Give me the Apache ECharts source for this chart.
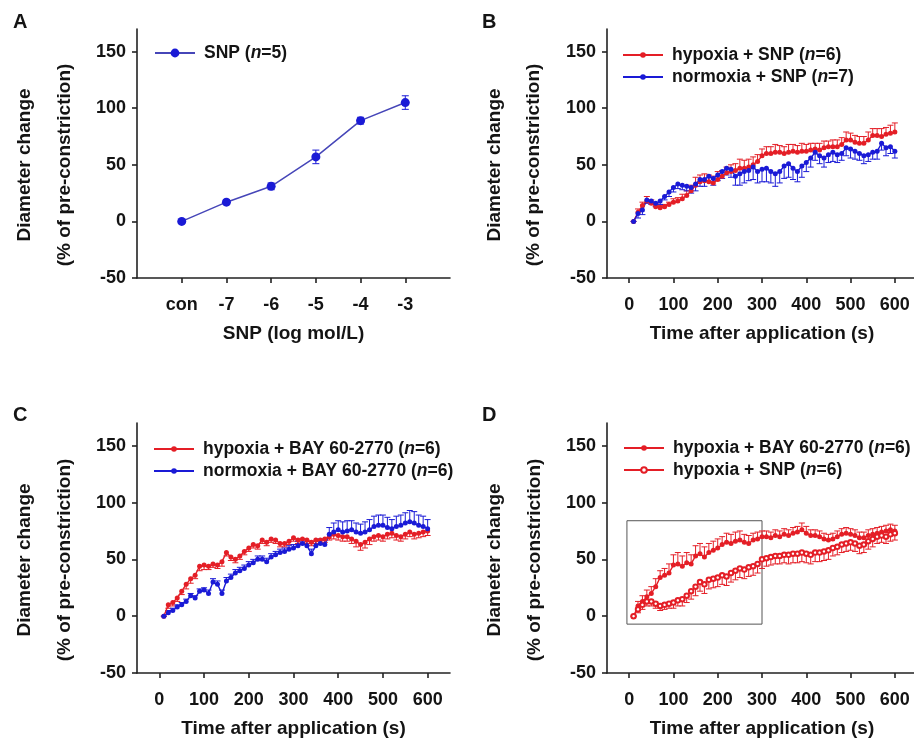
<!DOCTYPE html>
<html>
<head>
<meta charset="utf-8">
<script src="https://cdn.jsdelivr.net/npm/echarts@6/dist/echarts.min.js"></script>
<style>
  html, body { margin: 0; padding: 0; background: #fff; }
  #chart { width: 914px; height: 740px; }
</style>
</head>
<body>
<div id="chart"></div>
<script>
// ---- Concentration–response (panel A) ----
const doseLabels = ['con', '-7', '-6', '-5', '-4', '-3'];
const doseSnp = [0, 17, 31, 57, 89, 105];
const doseSnpErr = [0, 2, 3, 6, 3, 6];

// ---- Time courses (panels B–D), sampled every 10 s ----
const timeSec = [10, 20, 30, 40, 50, 60, 70, 80, 90, 100,
  110, 120, 130, 140, 150, 160, 170, 180, 190, 200,
  210, 220, 230, 240, 250, 260, 270, 280, 290, 300,
  310, 320, 330, 340, 350, 360, 370, 380, 390, 400,
  410, 420, 430, 440, 450, 460, 470, 480, 490, 500,
  510, 520, 530, 540, 550, 560, 570, 580, 590, 600];
const timeTicks = [0, 100, 200, 300, 400, 500, 600];
const yTicks = [-50, 0, 50, 100, 150];

// B: SNP under hypoxia / normoxia
const hypoxiaSnpB = [0, 8, 14, 18, 16, 13, 12, 13, 15, 17,
  18, 20, 23, 27, 32, 35, 36, 35, 34, 37,
  40, 43, 44, 45, 47, 47, 48, 50, 53, 58,
  60, 60, 61, 61, 60, 61, 62, 61, 62, 62,
  63, 64, 63, 65, 66, 66, 66, 68, 72, 72,
  70, 69, 69, 72, 76, 76, 75, 77, 78, 79];
const hypoxiaSnpBErr = [0, 3, 3, 4, 3, 3, 2, 2, 2, 3,
  3, 4, 4, 5, 7, 6, 6, 6, 6, 7,
  5, 5, 6, 6, 8, 7, 7, 7, 6, 6,
  6, 6, 7, 6, 6, 7, 6, 6, 7, 6,
  6, 5, 6, 6, 5, 6, 6, 6, 7, 6,
  6, 6, 6, 7, 6, 6, 7, 6, 7, 8];
const normoxiaSnpB = [0, 7, 10, 19, 18, 16, 18, 22, 26, 30,
  33, 32, 31, 30, 33, 37, 37, 40, 38, 41,
  44, 47, 46, 40, 42, 44, 45, 48, 44, 46,
  47, 44, 42, 44, 49, 51, 47, 44, 49, 52,
  56, 61, 58, 56, 59, 61, 59, 60, 65, 64,
  62, 60, 58, 59, 61, 62, 69, 65, 66, 62];
const normoxiaSnpBErr = [0, 4, 4, 3, 3, 3, 3, 3, 4, 4,
  4, 4, 4, 5, 6, 6, 6, 5, 6, 5,
  6, 6, 7, 8, 10, 10, 9, 11, 10, 11,
  12, 10, 11, 10, 11, 12, 10, 9, 10, 8,
  8, 7, 7, 8, 7, 8, 7, 6, 7, 8,
  7, 6, 7, 6, 6, 7, 6, 7, 6, 6];

// C: BAY 60-2770 under hypoxia / normoxia
const hypoxiaBayC = [0, 10, 12, 16, 22, 28, 33, 36, 44, 45,
  44, 46, 45, 48, 56, 52, 50, 53, 57, 60,
  63, 62, 67, 65, 68, 67, 64, 64, 66, 69,
  67, 68, 67, 65, 67, 67, 68, 70, 72, 71,
  70, 70, 68, 66, 63, 65, 68, 70, 71, 70,
  72, 73, 71, 70, 72, 74, 72, 73, 74, 75];
const hypoxiaBayCErr = [0, 3, 3, 3, 3, 4, 4, 3, 4, 4,
  3, 3, 3, 4, 3, 3, 3, 3, 3, 3,
  3, 3, 3, 3, 3, 3, 3, 3, 3, 3,
  3, 3, 3, 3, 3, 3, 3, 3, 4, 4,
  4, 4, 4, 5, 5, 5, 5, 4, 4, 4,
  4, 4, 4, 4, 4, 4, 4, 4, 4, 4];
const normoxiaBayC = [0, 3, 5, 8, 10, 13, 18, 16, 22, 23,
  20, 30, 28, 20, 31, 34, 38, 40, 42, 45,
  47, 50, 50, 48, 52, 54, 56, 57, 59, 60,
  62, 64, 62, 55, 62, 64, 63, 72, 74, 76,
  74, 75, 76, 74, 73, 74, 76, 79, 80, 80,
  78, 77, 79, 80, 82, 83, 82, 80, 79, 77];
const normoxiaBayCErr = [0, 2, 2, 2, 2, 2, 2, 2, 2, 2,
  3, 3, 3, 3, 3, 3, 3, 3, 3, 3,
  3, 3, 3, 3, 3, 3, 3, 3, 3, 3,
  4, 4, 4, 4, 4, 4, 4, 6, 8, 8,
  9, 9, 8, 8, 8, 9, 9, 9, 9, 9,
  9, 8, 9, 9, 9, 10, 10, 9, 9, 8];

// D: hypoxia, BAY 60-2770 vs SNP
const hypoxiaBayD = [0, 9, 13, 17, 20, 26, 34, 36, 38, 45,
  46, 44, 47, 46, 53, 55, 52, 56, 58, 60,
  63, 65, 64, 66, 67, 65, 64, 67, 68, 70,
  70, 69, 71, 70, 72, 71, 73, 74, 76, 73,
  71, 71, 70, 68, 67, 68, 70, 72, 73, 72,
  71, 69, 69, 71, 72, 73, 74, 75, 76, 75];
const hypoxiaBayDErr = [0, 4, 5, 6, 6, 7, 6, 6, 8, 9,
  10, 9, 9, 8, 9, 9, 9, 8, 8, 8,
  7, 8, 8, 8, 8, 7, 7, 6, 6, 5,
  5, 5, 5, 5, 5, 5, 5, 5, 6, 6,
  5, 5, 5, 5, 5, 5, 5, 5, 5, 5,
  5, 5, 5, 5, 5, 5, 5, 5, 5, 5];
const hypoxiaSnpD = [0, 6, 10, 13, 13, 11, 9, 10, 11, 12,
  14, 15, 18, 22, 26, 30, 28, 32, 33, 34,
  36, 35, 38, 40, 42, 41, 43, 44, 46, 50,
  51, 52, 53, 53, 54, 54, 55, 55, 56, 55,
  54, 56, 56, 57, 58, 60, 61, 63, 64, 65,
  64, 62, 63, 66, 68, 70, 71, 70, 72, 73];
const hypoxiaSnpDErr = [0, 3, 4, 4, 4, 4, 4, 4, 4, 5,
  5, 6, 6, 7, 8, 8, 8, 8, 8, 8,
  8, 8, 8, 8, 8, 8, 8, 8, 8, 8,
  7, 7, 7, 7, 7, 8, 8, 8, 8, 8,
  8, 8, 8, 8, 8, 7, 7, 7, 7, 7,
  7, 7, 7, 7, 7, 6, 6, 6, 6, 6];

// Outline of the early-phase region highlighted in panel D (data units)
const earlyBoxT = [-5, 300];
const earlyBoxY = [-7, 84];

// ---- Styling ----
const FONT = '"Liberation Sans", Arial, Helvetica, sans-serif';
const RED = '#e41e26';
const BLUE = '#1a1ad6';
const INK = '#141414';
const TICK_FONT = 18;
const TITLE_FONT = 19;
const LEGEND_FONT = 17.5;

const legendText = {
  snpA: 'SNP ({i|n}=5)',
  hypSnpB: 'hypoxia + SNP ({i|n}=6)',
  norSnpB: 'normoxia + SNP ({i|n}=7)',
  hypBayC: 'hypoxia + BAY 60-2770 ({i|n}=6)',
  norBayC: 'normoxia + BAY 60-2770 ({i|n}=6)',
  hypBayD: 'hypoxia + BAY 60-2770 ({i|n}=6)',
  hypSnpD: 'hypoxia + SNP ({i|n}=6)'
};

const grids = [
  { left: 137, top: 29, width: 313, height: 249 },
  { left: 607, top: 29, width: 310, height: 249 },
  { left: 137, top: 423, width: 313, height: 250 },
  { left: 607, top: 423, width: 310, height: 250 }
].map(g => Object.assign({ outerBoundsMode: 'none', containLabel: false }, g));

const axisLineStyle = { color: '#222', width: 1.6 };
const tickLabelStyle = { fontSize: TICK_FONT, fontWeight: 'bold', fontFamily: FONT, color: INK };
const axisTitleStyle = { fontSize: TITLE_FONT, fontWeight: 'bold', fontFamily: FONT, color: INK };

function yAxisFor(gi) {
  return {
    gridIndex: gi, type: 'value', min: -50, max: 170,
    axisLine: { show: true, onZero: false, lineStyle: axisLineStyle },
    axisTick: { show: true, length: 5, inside: false, customValues: yTicks, lineStyle: axisLineStyle },
    axisLabel: Object.assign({ customValues: yTicks, margin: 11 }, tickLabelStyle),
    splitLine: { show: false }
  };
}

function timeAxisFor(gi) {
  return {
    gridIndex: gi, type: 'value', min: -50, max: 650, interval: 50,
    axisLine: { show: true, onZero: false, lineStyle: axisLineStyle },
    axisTick: { show: true, length: 5, customValues: timeTicks, lineStyle: axisLineStyle },
    axisLabel: Object.assign({ customValues: timeTicks, margin: 18 }, tickLabelStyle),
    splitLine: { show: false },
    name: 'Time after application (s)', nameLocation: 'middle', nameGap: 46,
    nameTextStyle: axisTitleStyle
  };
}

const doseAxis = {
  gridIndex: 0, type: 'value', min: 0, max: 7, interval: 1,
  axisLine: { show: true, onZero: false, lineStyle: axisLineStyle },
  axisTick: { show: true, length: 5, customValues: [1, 2, 3, 4, 5, 6], lineStyle: axisLineStyle },
  axisLabel: Object.assign({
    customValues: [1, 2, 3, 4, 5, 6], margin: 18,
    formatter: v => doseLabels[Math.round(v) - 1] || ''
  }, tickLabelStyle),
  splitLine: { show: false },
  name: 'SNP (log mol/L)', nameLocation: 'middle', nameGap: 46,
  nameTextStyle: axisTitleStyle
};

// Vertical SEM bars: dir = 1 (up), -1 (down), 0 (both)
function errorBars(gi, xs, ys, errs, dir, color, capHalf) {
  return {
    type: 'custom', xAxisIndex: gi, yAxisIndex: gi, silent: true, z: 1,
    encode: { x: 0, y: 1 },
    data: xs.map((x, i) => [x, ys[i], errs[i]]),
    renderItem(params, api) {
      const x = api.value(0), y = api.value(1), e = api.value(2);
      const ends = dir === 0 ? [y + e, y - e] : [y + dir * e];
      const p0 = api.coord([x, y]);
      const children = [];
      ends.forEach(yy => {
        const p1 = api.coord([x, yy]);
        children.push({ type: 'line', shape: { x1: p0[0], y1: p0[1], x2: p1[0], y2: p1[1] },
          style: { stroke: color, lineWidth: 1 } });
        children.push({ type: 'line', shape: { x1: p1[0] - capHalf, y1: p1[1], x2: p1[0] + capHalf, y2: p1[1] },
          style: { stroke: color, lineWidth: 1 } });
      });
      return { type: 'group', children };
    }
  };
}

function timeLine(gi, name, ys, color, hollow) {
  return {
    type: 'line', name, xAxisIndex: gi, yAxisIndex: gi, z: 3,
    data: timeSec.map((t, i) => [t, ys[i]]),
    symbol: hollow ? 'emptyCircle' : 'circle', symbolSize: hollow ? 4.5 : 5, showAllSymbol: true,
    lineStyle: { color, width: hollow ? 1 : 1.4 },
    itemStyle: { color, borderColor: color, borderWidth: hollow ? 0.8 : 0 },
    emphasis: { disabled: true }, animation: false
  };
}

function legendFor(left, top, names, itemHeight) {
  return {
    left, top, orient: 'vertical', padding: 0, itemGap: 0,
    itemWidth: 40, itemHeight, selectedMode: false,
    data: names,
    formatter: n => legendText[n],
    textStyle: {
      fontSize: LEGEND_FONT, fontWeight: 'bold', fontFamily: FONT, color: INK,
      lineHeight: 22, padding: [0, 0, 0, 4],
      rich: { i: { fontSize: LEGEND_FONT, fontWeight: 'bold', fontStyle: 'italic', fontFamily: FONT, color: INK, lineHeight: 22 } }
    }
  };
}

function rotatedTitle(x, y, text) {
  return {
    type: 'text', x, y, rotation: Math.PI / 2, silent: true,
    style: { text, font: 'bold ' + TITLE_FONT + 'px ' + FONT, fill: INK, textAlign: 'center', textVerticalAlign: 'middle' }
  };
}
function panelLetter(x, y, text) {
  return { type: 'text', x, y, silent: true,
    style: { text, font: 'bold 20px ' + FONT, fill: INK, textAlign: 'left', textVerticalAlign: 'top' } };
}

const hypBayDLine = timeLine(3, 'hypBayD', hypoxiaBayD, RED);
hypBayDLine.markArea = {
  silent: true, label: { show: false },
  itemStyle: { color: 'rgba(0,0,0,0)', borderColor: '#555', borderWidth: 1 },
  data: [[{ coord: [earlyBoxT[0], earlyBoxY[0]] }, { coord: [earlyBoxT[1], earlyBoxY[1]] }]]
};

const option = {
  animation: false,
  backgroundColor: '#fff',
  grid: grids,
  xAxis: [doseAxis, timeAxisFor(1), timeAxisFor(2), timeAxisFor(3)],
  yAxis: [yAxisFor(0), yAxisFor(1), yAxisFor(2), yAxisFor(3)],
  legend: [
    legendFor(154, 42, ['snpA'], 11),
    legendFor(622, 44, ['hypSnpB', 'norSnpB'], 7),
    legendFor(153, 438, ['hypBayC', 'norBayC'], 7),
    legendFor(623, 437, ['hypBayD', 'hypSnpD'], 7)
  ],
  series: [
    // A
    errorBars(0, [1, 2, 3, 4, 5, 6], doseSnp, doseSnpErr, 0, BLUE, 3.5),
    {
      type: 'line', name: 'snpA', xAxisIndex: 0, yAxisIndex: 0, z: 3,
      data: doseSnp.map((v, i) => [i + 1, v]),
      symbol: 'circle', symbolSize: 9,
      lineStyle: { color: '#4646b8', width: 1.5 },
      itemStyle: { color: BLUE }, emphasis: { disabled: true }
    },
    // B
    errorBars(1, timeSec, hypoxiaSnpB, hypoxiaSnpBErr, 1, RED, 3),
    errorBars(1, timeSec, normoxiaSnpB, normoxiaSnpBErr, -1, BLUE, 3),
    timeLine(1, 'hypSnpB', hypoxiaSnpB, RED),
    timeLine(1, 'norSnpB', normoxiaSnpB, BLUE),
    // C
    errorBars(2, timeSec, hypoxiaBayC, hypoxiaBayCErr, -1, RED, 3),
    errorBars(2, timeSec, normoxiaBayC, normoxiaBayCErr, 1, BLUE, 3),
    timeLine(2, 'hypBayC', hypoxiaBayC, RED),
    timeLine(2, 'norBayC', normoxiaBayC, BLUE),
    // D
    errorBars(3, timeSec, hypoxiaBayD, hypoxiaBayDErr, 1, RED, 3),
    errorBars(3, timeSec, hypoxiaSnpD, hypoxiaSnpDErr, -1, RED, 3),
    hypBayDLine,
    timeLine(3, 'hypSnpD', hypoxiaSnpD, RED, true)
  ],
  graphic: [
    panelLetter(13, 12, 'A'), panelLetter(482, 12, 'B'),
    panelLetter(13, 405, 'C'), panelLetter(482, 405, 'D'),
    rotatedTitle(25, 165, 'Diameter change'), rotatedTitle(65, 165, '(% of pre-constriction)'),
    rotatedTitle(495, 165, 'Diameter change'), rotatedTitle(534, 165, '(% of pre-constriction)'),
    rotatedTitle(25, 560, 'Diameter change'), rotatedTitle(65, 560, '(% of pre-constriction)'),
    rotatedTitle(495, 560, 'Diameter change'), rotatedTitle(535, 560, '(% of pre-constriction)')
  ]
};

const chart = echarts.init(document.getElementById('chart'), null, { renderer: 'canvas' });
chart.setOption(option);
</script>
</body>
</html>
